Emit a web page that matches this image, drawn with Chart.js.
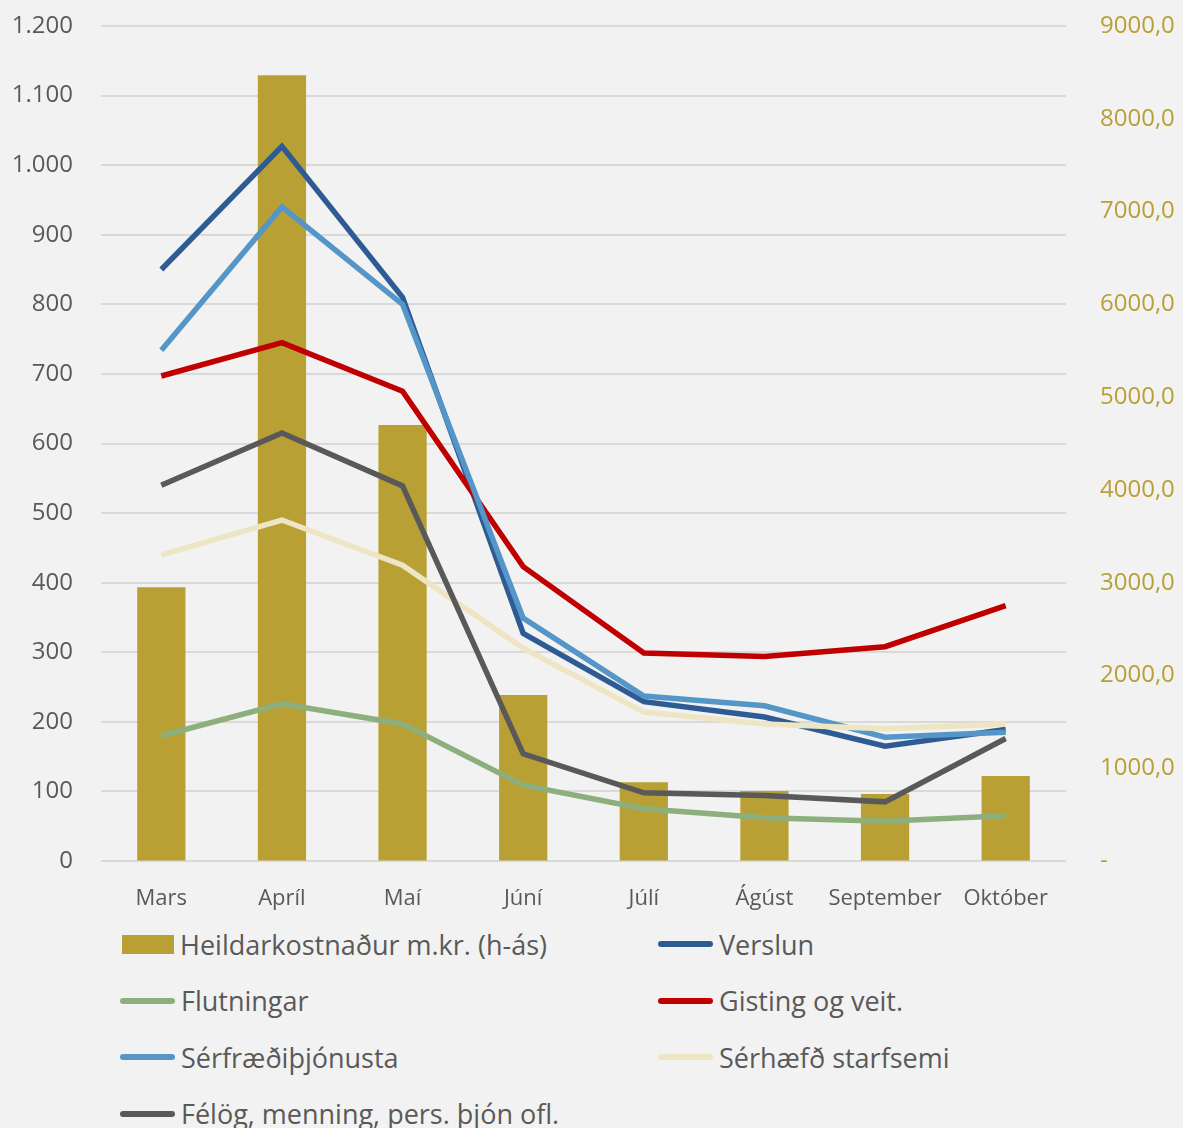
<!DOCTYPE html>
<html>
<head>
<meta charset="utf-8">
<script src="https://cdn.jsdelivr.net/npm/chart.js@4"></script>
<style>
  html, body { margin: 0; padding: 0; background: #f2f2f2; }
  body { width: 1183px; height: 1128px; overflow: hidden; position: relative; font-family: "Open Sans", sans-serif; }
  #wrap { position: absolute; left: 0; top: 0; width: 1183px; height: 920px; }
  #legend { position: absolute; left: 0; top: 920px; width: 1183px; }
  .item { position: absolute; display: flex; align-items: center; color: #595959; font-size: 27px; white-space: nowrap; height: 40px; }
  .sw { display: inline-block; margin-right: 6px; }
</style>
</head>
<body>
<div id="wrap"><canvas id="myChart" width="1183" height="920"></canvas></div>
<div id="legend"></div>
<script>
const months = ['Mars', 'Apríl', 'Maí', 'Júní', 'Júlí', 'Ágúst', 'September', 'Október'];

const heildarkostnadur = [2950, 8470, 4700, 1790, 850, 755, 722, 916];
const verslun = [850, 1027, 810, 327, 229, 207, 165, 189];
const flutningar = [180, 226, 197, 109, 75, 62, 57, 65];
const gisting = [697, 745, 675, 423, 299, 294, 308, 367];
const serfraedi = [734, 940, 800, 349, 237, 223, 178, 185];
const serhaefd = [440, 490, 425, 306, 214, 197, 190, 197];
const felog = [540, 615, 539, 154, 98, 94, 85, 176];

const gold = '#b9a035';
const textColor = '#595959';

function line(label, data, color, order) {
    return {
        type: 'line',
        label: label,
        data: data,
        borderColor: color,
        backgroundColor: color,
        borderWidth: 5.5,
        pointRadius: 0,
        tension: 0,
        yAxisID: 'y',
        order: order
    };
}

const ctx = document.getElementById('myChart').getContext('2d');
const myChart = new Chart(ctx, {
    data: {
        labels: months,
        datasets: [
            {
                type: 'bar',
                label: 'Heildarkostnaður m.kr. (h-ás)',
                data: heildarkostnadur,
                backgroundColor: gold,
                yAxisID: 'y1',
                barPercentage: 0.4,
                categoryPercentage: 1,
                order: 10
            },
            line('Verslun', verslun, '#2e5b94', 6),
            line('Flutningar', flutningar, '#8caf7d', 5),
            line('Gisting og veit.', gisting, '#c00000', 4),
            line('Sérfræðiþjónusta', serfraedi, '#5596c8', 3),
            line('Sérhæfð starfsemi', serhaefd, '#eee5c4', 2),
            line('Félög, menning, pers. þjón ofl.', felog, '#595959', 1)
        ]
    },
    options: {
        responsive: false,
        animation: false,
        layout: { padding: { top: 26 } },
        plugins: {
            legend: { display: false },
            tooltip: { enabled: false }
        },
        scales: {
            x: {
                grid: { display: false },
                border: { display: false },
                ticks: { color: textColor, font: { family: 'Open Sans', size: 22 }, padding: 17, maxRotation: 0, autoSkip: false },
                afterFit: s => { s.height = 59; }
            },
            y: {
                position: 'left',
                min: 0,
                max: 1200,
                // tick marks are hidden, their length only spaces the labels
                grid: { color: '#d9d9d9', lineWidth: 2, drawTicks: true, tickLength: 28, tickColor: 'rgba(0,0,0,0)' },
                border: { display: false },
                ticks: {
                    stepSize: 100,
                    color: textColor,
                    padding: 0,
                    font: { family: 'Open Sans', size: 24 },
                    callback: v => v.toLocaleString('de-DE')
                },
                afterFit: s => { s.width = 101; }
            },
            y1: {
                position: 'right',
                min: 0,
                max: 9000,
                grid: { drawOnChartArea: false, drawTicks: true, tickLength: 34, tickColor: 'rgba(0,0,0,0)' },
                border: { display: false },
                ticks: {
                    stepSize: 1000,
                    color: gold,
                    padding: 0,
                    font: { family: 'Open Sans', size: 24 },
                    callback: v => v === 0 ? '-' : v.toFixed(1).replace('.', ',')
                },
                afterFit: s => { s.width = 117; }
            }
        }
    }
});

// legend in two columns, like the original
const legend = document.getElementById('legend');
myChart.data.datasets.forEach((ds, i) => {
    const col = i % 2;
    const row = Math.floor(i / 2);
    const el = document.createElement('div');
    el.className = 'item';
    el.style.left = (col === 0 ? 120 : 658) + 'px';
    el.style.top = (24 + row * 56.5 - 20) + 'px';
    const sw = document.createElement('span');
    sw.className = 'sw';
    if (ds.type === 'bar') {
        sw.style.width = '52px';
        sw.style.height = '19px';
        sw.style.marginLeft = '2px';
        sw.style.background = ds.backgroundColor;
    } else {
        sw.style.width = '55px';
        sw.style.height = '6px';
        sw.style.borderRadius = '3px';
        sw.style.background = ds.borderColor;
    }
    el.appendChild(sw);
    el.appendChild(document.createTextNode(ds.label));
    legend.appendChild(el);
});
</script>
</body>
</html>
